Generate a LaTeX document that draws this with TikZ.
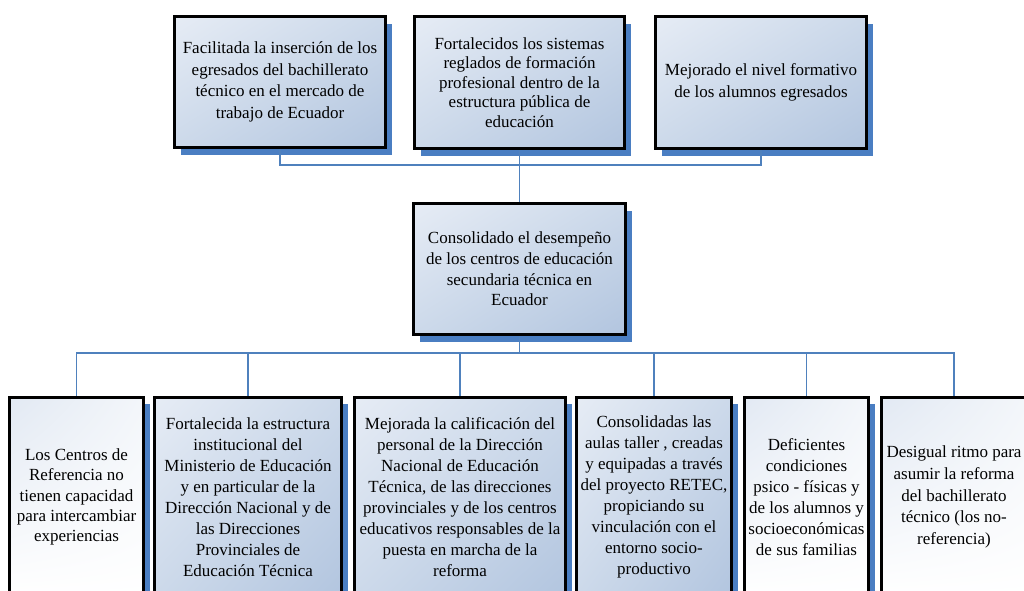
\documentclass[tikz,border=0pt]{standalone}
\usepackage{fontspec}
\setmainfont{Liberation Serif}
\usetikzlibrary{shadows,shadings}
\definecolor{shadowblue}{HTML}{4A7EC2}
\definecolor{linkblue}{HTML}{4F81BD}
\definecolor{lightA}{HTML}{E6ECF5}
\definecolor{lightB}{HTML}{CCD9EA}
\definecolor{lightC}{HTML}{B2C5DF}
\definecolor{paleA}{HTML}{E2E9F3}
\definecolor{paleB}{HTML}{F3F6FA}
\tikzset{
  box/.style={draw=black, line width=3pt, inner sep=1pt, align=center,
    font=\fontsize{17}{21}\selectfont,
    drop shadow={shadow xshift=6pt, shadow yshift=-7pt, fill=shadowblue, opacity=1}},
  wide/.style={font=\fontsize{17}{21.7}\selectfont},
  tight/.style={font=\fontsize{17}{19.6}\selectfont},
  bluebox/.style={box, upper left=lightA, upper right=lightB, lower left=lightB, lower right=lightC},
  whitebox/.style={box, upper left=paleA, upper right=paleB, lower left=white, lower right=white},
  link/.style={draw=linkblue, line width=1.5pt}
}
\begin{document}
\begin{tikzpicture}[x=1pt,y=-1pt]
\useasboundingbox (0,0) rectangle (1024,590);
\clip (0,0) rectangle (1024,590);
\fill[white] (0,0) rectangle (1024,590);

% top row
\node[bluebox, wide, minimum width=211pt, minimum height=131pt] (t1) at (280,82)
  {Facilitada la inserción de los\\egresados del bachillerato\\técnico en el mercado de\\trabajo de Ecuador};
\node[bluebox, tight, minimum width=210pt, minimum height=132pt] (t2) at (519.5,82.5)
  {Fortalecidos los sistemas\\reglados de formación\\profesional dentro de la\\estructura pública de\\educación};
\node[bluebox, wide, minimum width=211pt, minimum height=132pt] (t3) at (761,82.5)
  {Mejorado el nivel formativo\\de los alumnos egresados};

% middle
\node[bluebox, font=\fontsize{17}{20.6}\selectfont, minimum width=212pt, minimum height=131pt] (m) at (519.5,269)
  {Consolidado el desempeño\\de los centros de educación\\secundaria técnica en\\Ecuador};

% bottom row
\node[whitebox, font=\fontsize{17}{20.4}\selectfont, minimum width=134pt, minimum height=200pt] (b1) at (76.5,497)
  {Los Centros de\\Referencia no\\tienen capacidad\\para intercambiar\\experiencias};
\node[bluebox, minimum width=187pt, minimum height=200pt] (b2) at (248,497)
  {Fortalecida la estructura\\institucional del\\Ministerio de Educación\\y en particular de la\\Dirección Nacional y de\\las Direcciones\\Provinciales de\\Educación Técnica};
\node[bluebox, minimum width=211pt, minimum height=200pt] (b3) at (460,497)
  {Mejorada la calificación del\\personal de la Dirección\\Nacional de Educación\\Técnica, de las direcciones\\provinciales y de los centros\\educativos responsables de la\\puesta en marcha de la\\reforma};
\node[bluebox, minimum width=155pt, minimum height=200pt] (b4) at (654,497)
  {Consolidadas las\\aulas taller , creadas\\y equipadas a través\\del proyecto RETEC,\\propiciando su\\vinculación con el\\entorno socio-\\productivo};
\node[whitebox, minimum width=124pt, minimum height=200pt] (b5) at (806.5,497)
  {Deficientes\\condiciones\\psico - físicas y\\de los alumnos y\\socioeconómicas\\de sus familias};
\node[whitebox, wide, minimum width=145pt, minimum height=200pt] (b6) at (954,497)
  {Desigual ritmo para\\asumir la reforma\\del bachillerato\\técnico (los no-\\referencia)};

% connectors
\coordinate (j1) at (519.5,165);
\coordinate (j2) at (519.5,353);
\draw[link] (t1.south) |- (j1) -| (t3.south);
\draw[link] (t2.south) -- (m.north);
\draw[link] (m.south) -- (j2);
\draw[link] (b1.north) |- (j2) -| (b6.north);
\draw[link] (b2.north) -- (b2.north |- j2);
\draw[link] (b3.north) -- (b3.north |- j2);
\draw[link] (b4.north) -- (b4.north |- j2);
\draw[link] (b5.north) -- (b5.north |- j2);
\end{tikzpicture}
\end{document}
